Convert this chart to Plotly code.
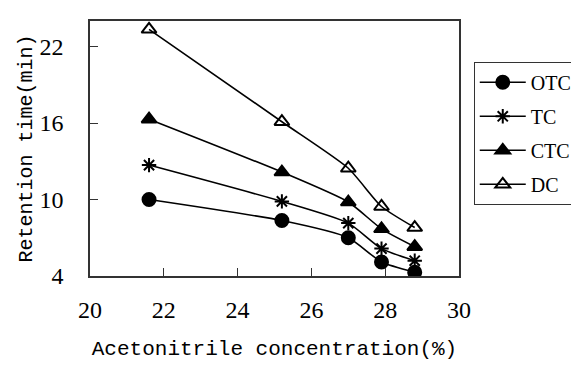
import plotly.graph_objects as go

acetonitrile = [21.6, 25.2, 27.0, 27.9, 28.8]
otc = [10.0, 8.35, 7.0, 5.1, 4.3]
tc = [12.7, 9.85, 8.15, 6.15, 5.2]
ctc = [16.3, 12.15, 9.8, 7.7, 6.3]
dc = [23.35, 16.1, 12.45, 9.45, 7.8]

series = [
    ("OTC", otc, "circle"),
    ("TC", tc, "asterisk-open"),
    ("CTC", ctc, "triangle-up"),
    ("DC", dc, "triangle-up-open"),
]

SERIF = "Liberation Serif, DejaVu Serif, Times New Roman, serif"
MONO = "Liberation Mono, DejaVu Sans Mono, Courier New, monospace"

fig = go.Figure()
for i, (name, ys, sym) in enumerate(series):
    fig.add_trace(go.Scatter(
        x=acetonitrile, y=ys, name=name, mode="lines+markers",
        legendgroup=name,
        line=dict(color="black", width=1.6, shape="spline", smoothing=0.6),
        marker=dict(symbol=sym, size=13 if sym != "asterisk-open" else 12,
                    color="black", line=dict(color="black", width=2)),
    ))

fig.update_layout(
    width=579, height=366,
    margin=dict(l=82, r=128, t=13, b=98, autoexpand=False),
    paper_bgcolor="white", plot_bgcolor="white",
    showlegend=True,
    legend=dict(x=1.04, y=0.84, xanchor="left", yanchor="top",
                bordercolor="#333", borderwidth=1,
                font=dict(family=SERIF, size=20, color="black"),
                tracegroupgap=5, itemwidth=46),
    xaxis=dict(range=[20, 30], tickvals=[20, 22, 24, 26, 28, 30],
               ticks="inside", ticklen=8, tickcolor="#333", automargin=False,
               showline=True, linecolor="#333", linewidth=1.5, mirror=True,
               showgrid=False, zeroline=False,
               ticklabelstandoff=11,
               tickfont=dict(family=SERIF, size=24, color="black"),
               title=dict(text="Acetonitrile concentration(%)", standoff=19,
                          font=dict(family=MONO, size=21, color="black"))),
    yaxis=dict(range=[4, 24], tickvals=[4, 10, 16, 22],
               ticks="inside", ticklen=8, tickcolor="#333", automargin=False,
               showline=True, linecolor="#333", linewidth=1.5, mirror=True,
               showgrid=False, zeroline=False,
               ticklabelstandoff=20,
               tickfont=dict(family=SERIF, size=24, color="black"),
               title=dict(text="Retention time(min)", standoff=1,
                          font=dict(family=MONO, size=20, color="black"))),
)

fig.write_html("out.html")
